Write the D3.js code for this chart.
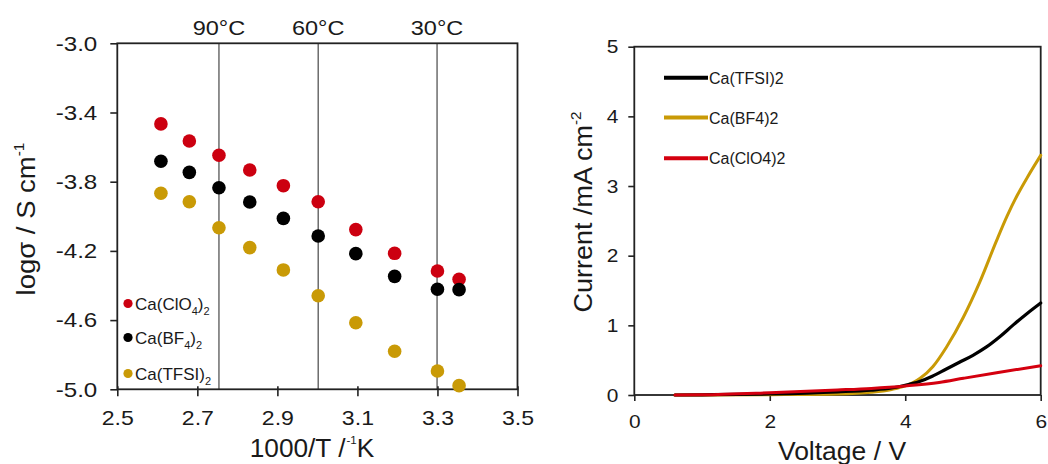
<!DOCTYPE html>
<html><head><meta charset="utf-8">
<script src="https://cdn.jsdelivr.net/npm/d3@7"></script>
<style>body{margin:0;background:#fff}svg{display:block}text{font-family:"Liberation Sans",Arial,sans-serif;fill:#1a1a1a}</style>
</head><body><svg id="c" width="1048" height="464"></svg>
<script>
// ---- Left chart data (Arrhenius) ----
const invT = [2.609, 2.680, 2.754, 2.831, 2.915, 3.002, 3.096, 3.193, 3.300, 3.354];
const clo4 = [-3.466, -3.565, -3.647, -3.732, -3.823, -3.916, -4.077, -4.214, -4.316, -4.364];
const bf4  = [-3.682, -3.746, -3.835, -3.917, -4.012, -4.114, -4.216, -4.347, -4.422, -4.424];
const tfsi = [-3.867, -3.916, -4.066, -4.181, -4.310, -4.459, -4.615, -4.780, -4.894, -4.979];
const leftXTicks = [2.5, 2.7, 2.9, 3.1, 3.3, 3.5];
const leftYTicks = [-3.0, -3.4, -3.8, -4.2, -4.6, -5.0];
const tempLines = [{x: 2.754, label: "90°C"}, {x: 3.002, label: "60°C"}, {x: 3.299, label: "30°C"}];
const leftSeries = [
  {name: "ClO", sub: "4", vals: clo4, color: "#cc0010"},
  {name: "BF", sub: "4", vals: bf4, color: "#000000"},
  {name: "TFSI", sub: "", vals: tfsi, color: "#c99a06"}
];
// ---- Right chart data (LSV) ----
const vTFSI = [0.6, 1.0, 2.0, 3.0, 3.5, 3.8, 4.0, 4.2, 4.4, 4.6, 4.8, 5.0, 5.2, 5.4, 5.6, 5.8, 6.0];
const iTFSI = [0.0, 0.003, 0.015, 0.045, 0.07, 0.10, 0.14, 0.19, 0.27, 0.37, 0.47, 0.57, 0.69, 0.84, 1.01, 1.17, 1.32];
const vBF4 = [0.6, 1.0, 2.0, 3.0, 3.5, 3.8, 4.0, 4.22, 4.41, 4.61, 4.86, 5.10, 5.35, 5.5, 5.65, 5.8, 6.0];
const iBF4 = [0.0, 0.0, 0.005, 0.015, 0.04, 0.08, 0.13, 0.24, 0.41, 0.69, 1.12, 1.62, 2.22, 2.56, 2.86, 3.12, 3.44];
const vClO4 = [0.6, 1.0, 2.0, 3.0, 3.5, 4.0, 4.5, 4.86, 5.35, 6.0];
const iClO4 = [0.0, 0.003, 0.033, 0.072, 0.095, 0.13, 0.18, 0.24, 0.32, 0.42];
const rightXTicks = [0, 2, 4, 6];
const rightYTicks = [0, 1, 2, 3, 4, 5];
const rightSeries = [
  {name: "Ca(TFSI)2", v: vTFSI, i: iTFSI, color: "#000000", w: 3.2},
  {name: "Ca(BF4)2", v: vBF4, i: iBF4, color: "#c99a06", w: 3},
  {name: "Ca(ClO4)2", v: vClO4, i: iClO4, color: "#d4000f", w: 3}
];

const svg = d3.select("#c");
function stretch(sel, f) {
  sel.each(function () {
    const w = this.getComputedTextLength();
    d3.select(this).attr("textLength", w * f).attr("lengthAdjust", "spacingAndGlyphs");
  });
}

// ===== Left chart =====
const L = {x0: 117.3, x1: 517.5, y0: 43.3, y1: 389.3};
const lx = d3.scaleLinear().domain([2.5, 3.5]).range([L.x0, L.x1]);
const ly = d3.scaleLinear().domain([-5.0, -3.0]).range([L.y1, L.y0]);
const gl = svg.append("g");

gl.selectAll("line.t").data(tempLines).join("line")
  .attr("x1", d => lx(d.x)).attr("x2", d => lx(d.x))
  .attr("y1", L.y0).attr("y2", L.y1)
  .attr("stroke", "#555").attr("stroke-width", 1.3);
const tl = gl.selectAll("text.t").data(tempLines).join("text")
  .attr("x", d => lx(d.x)).attr("y", 35).attr("text-anchor", "middle")
  .attr("font-size", 21).text(d => d.label);
stretch(tl, 1.12);

gl.append("rect").attr("x", L.x0).attr("y", L.y0).attr("width", L.x1 - L.x0).attr("height", L.y1 - L.y0)
  .attr("fill", "none").attr("stroke", "#222").attr("stroke-width", 1.8);

const lxAxis = gl.append("g").attr("transform", `translate(0,${L.y1})`)
  .call(d3.axisBottom(lx).tickValues(leftXTicks).tickSize(7).tickFormat(d3.format(".1f")));
const lyAxis = gl.append("g").attr("transform", `translate(${L.x0},0)`)
  .call(d3.axisLeft(ly).tickValues(leftYTicks).tickSize(7).tickFormat(d => d3.format(".1f")(d).replace("−", "-")));
[lxAxis, lyAxis].forEach(a => {
  a.select(".domain").remove();
  a.selectAll(".tick line").attr("stroke", "#222").attr("stroke-width", 1.6);
  a.selectAll(".tick text").attr("font-size", 21).attr("fill", "#1a1a1a").attr("font-family", "Liberation Sans, Arial, sans-serif");
});
lxAxis.selectAll(".tick line").attr("y1", -3);
lxAxis.selectAll(".tick text").attr("dy", "0").attr("y", 36);
lyAxis.selectAll(".tick text").attr("x", -20);
stretch(lxAxis.selectAll(".tick text"), 1.1);
stretch(lyAxis.selectAll(".tick text"), 1.15);

leftSeries.forEach(s => {
  gl.selectAll(null).data(invT.map((x, k) => [x, s.vals[k]])).join("circle")
    .attr("cx", d => lx(d[0])).attr("cy", d => ly(d[1])).attr("r", 6.8).attr("fill", s.color);
});

const legY = [303.5, 337.5, 373.5];
leftSeries.forEach((s, k) => {
  gl.append("circle").attr("cx", 128).attr("cy", legY[k]).attr("r", 4.6).attr("fill", s.color);
  const t = gl.append("text").attr("x", 135).attr("y", legY[k] + 6).attr("font-size", 17).attr("fill", "#333");
  t.append("tspan").text("Ca(" + s.name);
  if (s.sub) t.append("tspan").attr("font-size", 11).attr("dy", 5).text(s.sub);
  t.append("tspan").attr("dy", s.sub ? -5 : 0).text(")");
  t.append("tspan").attr("font-size", 11).attr("dy", 5).text("2");
});

gl.append("text").attr("transform", "translate(312,457) scale(1.05,1)").attr("text-anchor", "middle").attr("font-size", 25)
  .call(t => {
    t.append("tspan").text("1000/T /");
    t.append("tspan").attr("font-size", 11).attr("dy", -13).attr("dx", 1).text("-1");
    t.append("tspan").attr("dy", 13).attr("dx", 0).text("K");
  });
gl.append("text").attr("transform", "translate(35,219) rotate(-90) scale(1.1,1)").attr("text-anchor", "middle").attr("font-size", 25)
  .call(t => {
    t.append("tspan").text("logσ / S cm");
    t.append("tspan").attr("font-size", 14).attr("dy", -11).text("-1");
  });

// ===== Right chart =====
const R = {x0: 634.3, x1: 1040.7, y0: 46.7, y1: 395};
const rx = d3.scaleLinear().domain([0, 6]).range([R.x0, R.x1]);
const ry = d3.scaleLinear().domain([0, 5]).range([R.y1, R.y0]);
const gr = svg.append("g");

gr.append("rect").attr("x", R.x0).attr("y", R.y0).attr("width", R.x1 - R.x0).attr("height", R.y1 - R.y0)
  .attr("fill", "none").attr("stroke", "#222").attr("stroke-width", 1.8);

const rxAxis = gr.append("g").attr("transform", `translate(0,${R.y1})`)
  .call(d3.axisBottom(rx).tickValues(rightXTicks).tickSize(6).tickFormat(d3.format("d")));
const ryAxis = gr.append("g").attr("transform", `translate(${R.x0},0)`)
  .call(d3.axisLeft(ry).tickValues(rightYTicks).tickSize(6).tickFormat(d3.format("d")));
[rxAxis, ryAxis].forEach(a => {
  a.select(".domain").remove();
  a.selectAll(".tick line").attr("stroke", "#222").attr("stroke-width", 1.6);
  a.selectAll(".tick text").attr("font-size", 19).attr("fill", "#1a1a1a").attr("font-family", "Liberation Sans, Arial, sans-serif");
});
rxAxis.selectAll(".tick text").attr("dy", "0").attr("y", 33);
ryAxis.selectAll(".tick text").attr("x", -16);
stretch(rxAxis.selectAll(".tick text"), 1.1);
stretch(ryAxis.selectAll(".tick text"), 1.1);

const line = d3.line().curve(d3.curveMonotoneX).x(d => rx(d[0])).y(d => ry(d[1]));
[1, 0, 2].forEach(k => {
  const s = rightSeries[k];
  gr.append("path").datum(s.v.map((v, j) => [v, s.i[j]]))
    .attr("d", line).attr("fill", "none").attr("stroke", s.color).attr("stroke-width", s.w)
    .attr("stroke-linejoin", "round").attr("stroke-linecap", "round");
});

const rlegY = [77.7, 117.5, 158.3];
rightSeries.forEach((s, k) => {
  gr.append("line").attr("x1", 664).attr("x2", 708).attr("y1", rlegY[k]).attr("y2", rlegY[k])
    .attr("stroke", s.color).attr("stroke-width", 4);
  gr.append("text").attr("x", 709).attr("y", rlegY[k] + 6).attr("font-size", 16).attr("fill", "#333").text(s.name);
});

gr.append("text").attr("transform", "translate(842,460) scale(1.06,1)").attr("text-anchor", "middle").attr("font-size", 25).text("Voltage / V");
gr.append("text").attr("transform", "translate(592,212) rotate(-90) scale(1.08,1)").attr("text-anchor", "middle").attr("font-size", 25)
  .call(t => {
    t.append("tspan").text("Current /mA cm");
    t.append("tspan").attr("font-size", 14).attr("dy", -11).text("-2");
  });
</script></body></html>
